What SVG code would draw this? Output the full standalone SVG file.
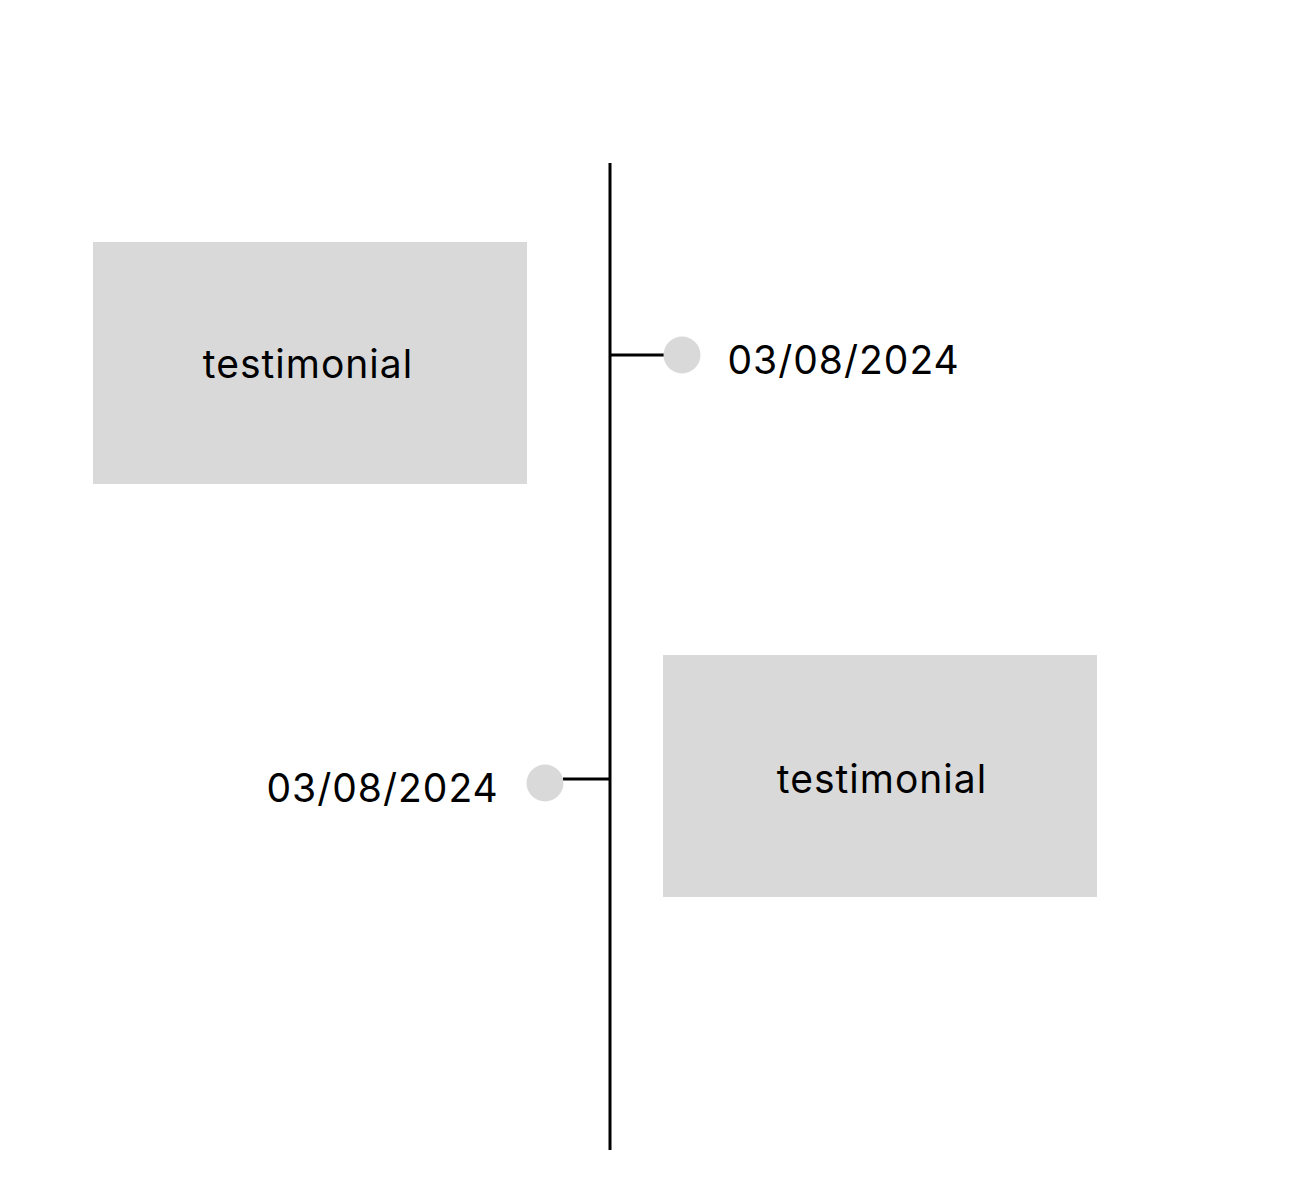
<svg xmlns="http://www.w3.org/2000/svg" width="1292" height="1194" viewBox="0 0 1292 1194">
<style>
.box{fill:#d9d9d9}
.dot{fill:#d9d9d9}
.ln{stroke:#000;stroke-width:3;fill:none}
.t{font-family:Inter,"Liberation Sans",sans-serif;font-size:39px;letter-spacing:1px;fill:#000}
</style>
<rect width="1292" height="1194" fill="#fff"/>
<g id="connectors">
<line class="ln" x1="610" y1="163" x2="610" y2="1150"/>
<line class="ln" x1="610" y1="355" x2="664" y2="355"/>
<line class="ln" x1="563" y1="779" x2="610" y2="779"/>
</g>
<g id="box1"><rect class="box" x="93" y="242" width="434" height="242"/><text class="t" x="308" y="378" text-anchor="middle">testimonial</text></g>
<g id="box2"><rect class="box" x="663" y="655" width="434" height="242"/><text class="t" x="882" y="792.5" text-anchor="middle">testimonial</text></g>
<g id="date1"><circle class="dot" cx="682" cy="355" r="18.5"/><text class="t" x="727.5" y="373.5">03/08/2024</text></g>
<g id="date2"><circle class="dot" cx="545" cy="783" r="18.5"/><text class="t" x="266.5" y="801.5">03/08/2024</text></g>
</svg>
